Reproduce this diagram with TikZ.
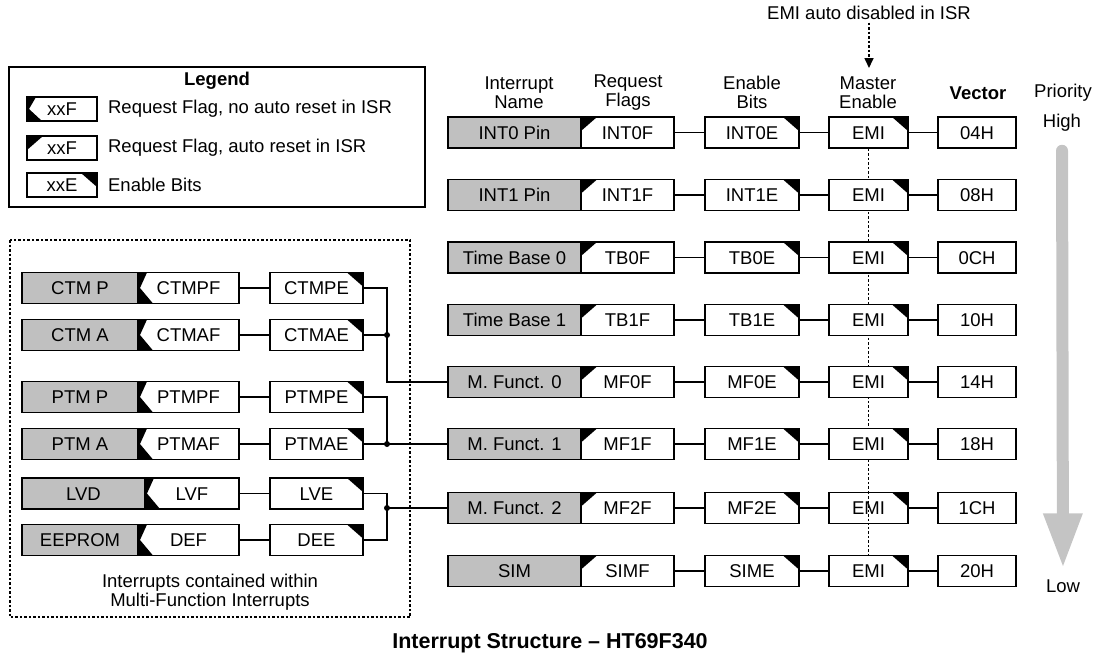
\documentclass[tikz,border=0pt]{standalone}
\usepackage{fontspec}
\setmainfont{Liberation Sans}
\usetikzlibrary{arrows.meta,backgrounds}
\definecolor{isrgray}{RGB}{192,192,192}
\definecolor{prigray}{RGB}{196,196,196}

\begin{document}
\begin{tikzpicture}[x=1pt,y=-1pt,font=\fontsize{18.5}{19}\selectfont,line width=1.6pt,
  box/.style={draw,inner sep=0pt,minimum height=31pt,text height=13.3pt,text depth=0pt},
  namebox/.style={box,fill=isrgray,minimum width=133pt},
  flagauto/.style={box,fill=white,minimum width=93pt,path picture={\fill[black] (path picture bounding box.north west) -- ++(16pt,0pt) -- ++(-16pt,-14pt) -- cycle;}},
  flagman/.style={box,fill=white,minimum width=101pt,path picture={\fill[black] (path picture bounding box.north west) -- ++(9pt,0pt) -- ([xshift=2pt]path picture bounding box.west) -- ([xshift=15pt]path picture bounding box.south west) -- (path picture bounding box.south west) -- cycle;}},
  enbit/.style={box,fill=white,minimum width=94pt,path picture={\fill[black] (path picture bounding box.north east) -- ++(-16pt,0pt) -- ++(16pt,-14pt) -- cycle;}},
  emibox/.style={enbit,minimum width=79pt},
  vecbox/.style={box,fill=white,minimum width=78pt},
  mfname/.style={namebox,minimum width=116pt},
  mfen/.style={enbit,minimum width=93pt},
  junct/.style={circle,fill,inner sep=0pt,minimum size=6pt}]
  \useasboundingbox (0,0) rectangle (1096,657);

  \draw (9,67) rectangle (425,207);
  \node[font=\fontsize{18.5}{19}\selectfont\bfseries] (legtitle) at (217,81) {Legend};
  \node[flagman,minimum width=70pt,minimum height=24pt] (legman) at (62,109) {xxF};
  \node[anchor=west] (legmantxt) at (104,109) {Request Flag, no auto reset in ISR};
  \node[flagauto,minimum width=70pt,minimum height=24pt] (legauto) at (62,148) {xxF};
  \node[anchor=west] (legautotxt) at (104,148) {Request Flag, auto reset in ISR};
  \node[enbit,minimum width=70pt,minimum height=24pt] (legen) at (62,185) {xxE};
  \node[anchor=west] (legentxt) at (104,185) {Enable Bits};

  \node[inner sep=2pt] (emitxt) at (869,13) {EMI auto disabled in ISR};
  \coordinate (emitip) at (869,68);
  \draw[dash pattern=on 2.5pt off 2pt,-{Triangle[width=9pt,length=10pt]}] (emitxt.south) -- (emitip);

  \node[align=center] (hname) at (519,92.5) {Interrupt\\Name};
  \node[align=center] (hflag) at (628,92.5) {Request\\Flags};
  \node[align=center] (hen) at (752,92.5) {Enable\\Bits};
  \node[align=center] (hemi) at (868,92.5) {Master\\Enable};
  \node[font=\fontsize{18.5}{19}\selectfont\bfseries] (hvec) at (978,93) {Vector};
  \node (hprio) at (1063,93) {Priority};
  \node (high) at (1062,123) {High};
  \node (low) at (1063,586) {Low};
  \draw[prigray,line width=12pt,line cap=round,shorten <=15pt,shorten >=7pt,-{Triangle[width=36pt,length=55pt]}] (high.south) -- (low.north);

  \node[namebox] (int0n) at (514.5,132.5) {INT0 Pin};
  \node[flagauto] (int0f) at (627.5,132.5) {INT0F};
  \node[enbit] (int0e) at (752,132.5) {INT0E};
  \node[emibox] (int0emi) at (868.5,132.5) {EMI};
  \node[vecbox] (int0v) at (977,132.5) {04H};
  \draw (int0f) -- (int0e) (int0e) -- (int0emi) (int0emi) -- (int0v);

  \node[namebox] (int1n) at (514.5,195) {INT1 Pin};
  \node[flagauto] (int1f) at (627.5,195) {INT1F};
  \node[enbit] (int1e) at (752,195) {INT1E};
  \node[emibox] (int1emi) at (868.5,195) {EMI};
  \node[vecbox] (int1v) at (977,195) {08H};
  \draw (int1f) -- (int1e) (int1e) -- (int1emi) (int1emi) -- (int1v);

  \node[namebox] (tb0n) at (514.5,257.5) {Time Base 0};
  \node[flagauto] (tb0f) at (627.5,257.5) {TB0F};
  \node[enbit] (tb0e) at (752,257.5) {TB0E};
  \node[emibox] (tb0emi) at (868.5,257.5) {EMI};
  \node[vecbox] (tb0v) at (977,257.5) {0CH};
  \draw (tb0f) -- (tb0e) (tb0e) -- (tb0emi) (tb0emi) -- (tb0v);

  \node[namebox] (tb1n) at (514.5,320) {Time Base 1};
  \node[flagauto] (tb1f) at (627.5,320) {TB1F};
  \node[enbit] (tb1e) at (752,320) {TB1E};
  \node[emibox] (tb1emi) at (868.5,320) {EMI};
  \node[vecbox] (tb1v) at (977,320) {10H};
  \draw (tb1f) -- (tb1e) (tb1e) -- (tb1emi) (tb1emi) -- (tb1v);

  \node[namebox] (mf0n) at (514.5,382) {M. Funct. 0};
  \node[flagauto] (mf0f) at (627.5,382) {MF0F};
  \node[enbit] (mf0e) at (752,382) {MF0E};
  \node[emibox] (mf0emi) at (868.5,382) {EMI};
  \node[vecbox] (mf0v) at (977,382) {14H};
  \draw (mf0f) -- (mf0e) (mf0e) -- (mf0emi) (mf0emi) -- (mf0v);

  \node[namebox] (mf1n) at (514.5,444) {M. Funct. 1};
  \node[flagauto] (mf1f) at (627.5,444) {MF1F};
  \node[enbit] (mf1e) at (752,444) {MF1E};
  \node[emibox] (mf1emi) at (868.5,444) {EMI};
  \node[vecbox] (mf1v) at (977,444) {18H};
  \draw (mf1f) -- (mf1e) (mf1e) -- (mf1emi) (mf1emi) -- (mf1v);

  \node[namebox] (mf2n) at (514.5,508) {M. Funct. 2};
  \node[flagauto] (mf2f) at (627.5,508) {MF2F};
  \node[enbit] (mf2e) at (752,508) {MF2E};
  \node[emibox] (mf2emi) at (868.5,508) {EMI};
  \node[vecbox] (mf2v) at (977,508) {1CH};
  \draw (mf2f) -- (mf2e) (mf2e) -- (mf2emi) (mf2emi) -- (mf2v);

  \node[namebox] (simn) at (514.5,571) {SIM};
  \node[flagauto] (simf) at (627.5,571) {SIMF};
  \node[enbit] (sime) at (752,571) {SIME};
  \node[emibox] (simemi) at (868.5,571) {EMI};
  \node[vecbox] (simv) at (977,571) {20H};
  \draw (simf) -- (sime) (sime) -- (simemi) (simemi) -- (simv);

  \begin{scope}[on background layer]
    \draw[dash pattern=on 2.5pt off 2pt] (int0emi.south) -- (simemi.north);
  \end{scope}
  \draw[dash pattern=on 2.5pt off 2pt] (mf2emi.north) -- (mf2emi.south);

  \draw[dash pattern=on 2.5pt off 2pt] (10,240) rectangle (410,617);
  \node[mfname] (ctmpn) at (80,288) {CTM P};
  \node[flagman] (ctmpf) at (188.5,288) {CTMPF};
  \node[mfen] (ctmpe) at (316.5,288) {CTMPE};
  \node[mfname] (ctman) at (80,335) {CTM A};
  \node[flagman] (ctmaf) at (188.5,335) {CTMAF};
  \node[mfen] (ctmae) at (316.5,335) {CTMAE};
  \node[mfname] (ptmpn) at (80,397) {PTM P};
  \node[flagman] (ptmpf) at (188.5,397) {PTMPF};
  \node[mfen] (ptmpe) at (316.5,397) {PTMPE};
  \node[mfname] (ptman) at (80,444) {PTM A};
  \node[flagman] (ptmaf) at (188.5,444) {PTMAF};
  \node[mfen] (ptmae) at (316.5,444) {PTMAE};
  \node[mfname,minimum width=123pt] (lvdn) at (83.5,493.5) {LVD};
  \node[flagman,minimum width=94pt] (lvdf) at (192,493.5) {LVF};
  \node[mfen] (lvde) at (316.5,493.5) {LVE};
  \node[mfname] (eepn) at (80,540) {EEPROM};
  \node[flagman] (eepf) at (188.5,540) {DEF};
  \node[mfen] (eepe) at (316.5,540) {DEE};
  \draw (ctmpf) -- (ctmpe) (ctmaf) -- (ctmae) (ptmpf) -- (ptmpe) (ptmaf) -- (ptmae) (lvdf) -- (lvde) (eepf) -- (eepe);

  \coordinate (ctmj) at (387,335);
  \coordinate (ptmj) at (387,444);
  \coordinate (lvdj) at (387,508);
  \draw (ctmpe.east) -| (ctmj) |- (mf0n.west);
  \draw (ctmae.east) -- (ctmj);
  \draw (ptmpe.east) -| (ptmj) -- (mf1n.west);
  \draw (ptmae.east) -- (ptmj);
  \draw (lvde.east) -| (lvdj) -- (mf2n.west);
  \draw (eepe.east) -| (lvdj);
  \node[junct] (ctmdot) at (ctmj) {};
  \node[junct] (ptmdot) at (ptmj) {};
  \node[junct] (lvddot) at (lvdj) {};
  \node[align=center] (mfnote) at (210,592) {Interrupts contained within\\Multi-Function Interrupts};

  \node[font=\fontsize{21.5}{24}\selectfont\bfseries] (caption) at (550,643) {Interrupt Structure – HT69F340};
\end{tikzpicture}
\end{document}
